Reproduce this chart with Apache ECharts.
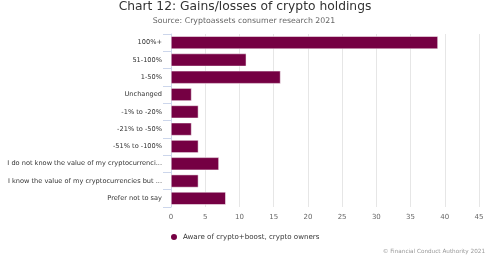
<!DOCTYPE html>
<html><head><meta charset="utf-8">
<script src="https://cdn.jsdelivr.net/npm/echarts@6/dist/echarts.min.js"></script>
<style>html,body{margin:0;padding:0;background:#fff}#c{width:498px;height:264px}</style>
</head><body><div id="c"></div>
<script>
const categories = ["100%+","51-100%","1-50%","Unchanged","-1% to -20%","-21% to -50%","-51% to -100%","I do not know the value of my cryptocurrenci...","I know the value of my cryptocurrencies but ...","Prefer not to say"];
const values = [39,11,16,3,4,3,4,7,4,8];
const seriesName = "Aware of crypto+boost, crypto owners";
const titleText = "Chart 12: Gains/losses of crypto holdings";
const subtitleText = "Source: Cryptoassets consumer research 2021";
const creditText = "© Financial Conduct Authority 2021";
const font = "DejaVu Sans";
const chart = echarts.init(document.getElementById('c'));
chart.setOption({
  animation:false,
  title:[
    {text:titleText,left:245,top:1,padding:0,textAlign:'center',textStyle:{fontFamily:font,fontSize:12.3,fontWeight:'normal',color:'#333'}},
    {text:subtitleText,left:244,top:17,padding:0,textAlign:'center',textStyle:{fontFamily:font,fontSize:7.8,fontWeight:'normal',color:'#666'}},
    {text:creditText,right:13,top:249,padding:0,textStyle:{fontFamily:font,fontSize:5.7,fontWeight:'normal',color:'#999'}}
  ],
  legend:{left:164,top:227,itemWidth:8,itemHeight:8,icon:'circle',itemGap:6,
    textStyle:{fontFamily:font,fontSize:7.1,color:'#333'},data:[seriesName]},
  grid:{left:171,right:19,top:34,bottom:57,containLabel:false,outerBoundsMode:'none'},
  xAxis:{type:'value',min:0,max:45,interval:5,
    axisLine:{show:false},axisTick:{show:false},
    axisLabel:{fontFamily:font,fontSize:7,color:'#666',margin:7},
    splitLine:{lineStyle:{color:'#e6e6e6'}}},
  yAxis:{type:'category',data:categories,inverse:true,
    axisLine:{show:true,lineStyle:{color:'#ccd6eb'}},
    axisTick:{show:true,length:8,lineStyle:{color:'#ccd6eb'}},
    axisLabel:{fontFamily:font,fontSize:6.6,color:'#333',margin:9}},
  series:[{name:seriesName,type:'bar',data:values,barCategoryGap:'26%',
    itemStyle:{color:'#750043',borderColor:'#fff',borderWidth:0.5}}]
});
</script></body></html>
